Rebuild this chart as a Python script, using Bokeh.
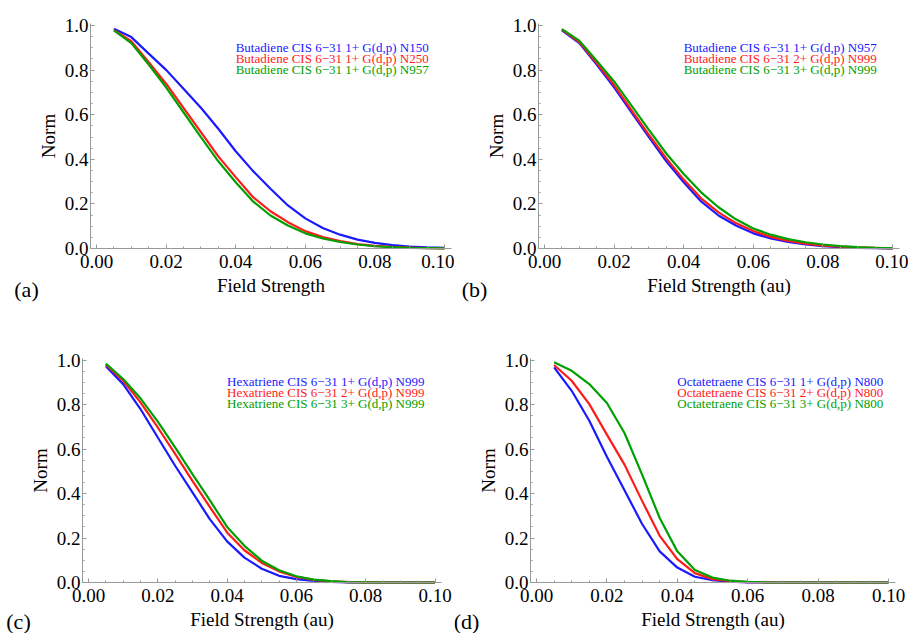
from bokeh.plotting import figure
from bokeh.models import Range1d, FixedTicker, PrintfTickFormatter, Label, LinearAxis
from bokeh.layouts import column, row
from bokeh.embed import file_html
from bokeh.resources import INLINE

# ---------------- data ----------------
field = [0.005, 0.010, 0.015, 0.020, 0.025, 0.030, 0.035, 0.040, 0.045, 0.050,
         0.055, 0.060, 0.065, 0.070, 0.075, 0.080, 0.085, 0.090, 0.095, 0.100]

# (a) Butadiene CIS 6-31 1+ G(d,p) N150 / N250 / N957
a_n150 = [0.985, 0.948, 0.874, 0.801, 0.716, 0.631, 0.537, 0.436, 0.347, 0.268,
          0.193, 0.135, 0.092, 0.062, 0.040, 0.025, 0.015, 0.009, 0.005, 0.003]
a_n250 = [0.980, 0.930, 0.835, 0.739, 0.631, 0.522, 0.413, 0.320, 0.230, 0.167,
          0.118, 0.078, 0.051, 0.033, 0.020, 0.012, 0.007, 0.004, 0.002, 0.001]
a_n957 = [0.978, 0.921, 0.825, 0.723, 0.611, 0.499, 0.391, 0.297, 0.211, 0.148,
          0.103, 0.068, 0.045, 0.029, 0.018, 0.010, 0.006, 0.003, 0.002, 0.001]

# (b) Butadiene CIS 6-31 1+/2+/3+ G(d,p)
b_1p = [0.978, 0.921, 0.825, 0.723, 0.611, 0.499, 0.391, 0.297, 0.211, 0.148,
        0.103, 0.068, 0.045, 0.029, 0.018, 0.010, 0.006, 0.003, 0.002, 0.001]
b_2p = [0.982, 0.926, 0.832, 0.733, 0.620, 0.510, 0.404, 0.309, 0.225, 0.162,
        0.114, 0.078, 0.052, 0.034, 0.022, 0.013, 0.008, 0.005, 0.003, 0.001]
b_3p = [0.984, 0.932, 0.842, 0.749, 0.641, 0.532, 0.426, 0.334, 0.252, 0.185,
        0.131, 0.090, 0.062, 0.042, 0.028, 0.018, 0.011, 0.006, 0.003, 0.002]

# (c) Hexatriene CIS 6-31 1+/2+/3+ G(d,p) N999
c_1p = [0.972, 0.892, 0.780, 0.652, 0.525, 0.405, 0.285, 0.185, 0.112, 0.062,
        0.030, 0.015, 0.007, 0.003, 0.001, 0.000, 0.000, 0.000, 0.000, 0.000]
c_2p = [0.979, 0.907, 0.810, 0.697, 0.578, 0.457, 0.340, 0.225, 0.145, 0.088,
        0.050, 0.025, 0.012, 0.005, 0.002, 0.001, 0.000, 0.000, 0.000, 0.000]
c_3p = [0.984, 0.915, 0.828, 0.723, 0.608, 0.487, 0.370, 0.250, 0.165, 0.098,
        0.055, 0.028, 0.013, 0.006, 0.002, 0.001, 0.000, 0.000, 0.000, 0.000]

# (d) Octatetraene CIS 6-31 1+/2+/3+ G(d,p) N800
d_1p = [0.967, 0.862, 0.727, 0.565, 0.415, 0.263, 0.140, 0.067, 0.026, 0.011,
        0.004, 0.001, 0.000, 0.000, 0.000, 0.000, 0.000, 0.000, 0.000, 0.000]
d_2p = [0.978, 0.907, 0.802, 0.665, 0.530, 0.367, 0.210, 0.105, 0.042, 0.015,
        0.006, 0.002, 0.001, 0.000, 0.000, 0.000, 0.000, 0.000, 0.000, 0.000]
d_3p = [0.990, 0.952, 0.892, 0.807, 0.672, 0.485, 0.290, 0.140, 0.056, 0.022,
        0.008, 0.003, 0.001, 0.000, 0.000, 0.000, 0.000, 0.000, 0.000, 0.000]

x_ticks = [0.0, 0.02, 0.04, 0.06, 0.08, 0.10]
x_minor = [0.005, 0.01, 0.015, 0.025, 0.03, 0.035, 0.045, 0.05, 0.055,
           0.065, 0.07, 0.075, 0.085, 0.09, 0.095]
y_ticks = [0.0, 0.2, 0.4, 0.6, 0.8, 1.0]
y_minor = [0.05, 0.1, 0.15, 0.25, 0.3, 0.35, 0.45, 0.5, 0.55,
           0.65, 0.7, 0.75, 0.85, 0.9, 0.95]

colors = ["#1a1aff", "#ff1a1a", "#00a000"]
SERIF = "Liberation Serif"

# layout (pixels within each panel canvas): where x=0, y=0 lie and px per unit
panels = [
    dict(tag="(a)", xlabel="Field Strength",
         series=[a_n150, a_n250, a_n957],
         names=["Butadiene CIS 6\u221231 1+ G(d,p) N150",
                "Butadiene CIS 6\u221231 1+ G(d,p) N250",
                "Butadiene CIS 6\u221231 1+ G(d,p) N957"],
         h=316, x0=96, sx=3480, y0=248, sy=223, tag_xy=(26, 289)),
    dict(tag="(b)", xlabel="Field Strength (au)",
         series=[b_1p, b_2p, b_3p],
         names=["Butadiene CIS 6\u221231 1+ G(d,p) N957",
                "Butadiene CIS 6\u221231 2+ G(d,p) N999",
                "Butadiene CIS 6\u221231 3+ G(d,p) N999"],
         h=316, x0=90, sx=3480, y0=248, sy=223, tag_xy=(20, 289)),
    dict(tag="(c)", xlabel="Field Strength (au)",
         series=[c_1p, c_2p, c_3p],
         names=["Hexatriene CIS 6\u221231 1+ G(d,p) N999",
                "Hexatriene CIS 6\u221231 2+ G(d,p) N999",
                "Hexatriene CIS 6\u221231 3+ G(d,p) N999"],
         h=317, x0=88, sx=3465, y0=266, sy=222.4, tag_xy=(18, 305)),
    dict(tag="(d)", xlabel="Field Strength (au)",
         series=[d_1p, d_2p, d_3p],
         names=["Octatetraene CIS 6\u221231 1+ G(d,p) N800",
                "Octatetraene CIS 6\u221231 2+ G(d,p) N800",
                "Octatetraene CIS 6\u221231 3+ G(d,p) N800"],
         h=317, x0=82, sx=3520, y0=266, sy=222.4, tag_xy=(12, 305)),
]

W = 454
legend_x = 0.04
legend_y = [0.903, 0.853, 0.803]
y_axis_at = -0.0017
x_axis_end = 0.102
y_axis_end = 1.008

figs = []
for pd_ in panels:
    h, x0, sx, y0, sy = pd_["h"], pd_["x0"], pd_["sx"], pd_["y0"], pd_["sy"]
    xr = Range1d(-x0 / sx, (W - x0) / sx)
    yr = Range1d((y0 - h) / sy, y0 / sy)
    p = figure(width=W, height=h, output_backend="svg", toolbar_location=None,
               x_range=xr, y_range=yr, x_axis_location=None, y_axis_location=None,
               min_border=0, min_border_left=0, min_border_right=0,
               min_border_top=0, min_border_bottom=0)
    p.outline_line_color = None
    p.grid.visible = False
    p.background_fill_color = "white"
    p.border_fill_color = "white"

    for ys, c in zip(pd_["series"], colors):
        p.line(field, ys, line_color=c, line_width=2.2)

    for name, c, ly in zip(pd_["names"], colors, legend_y):
        p.add_layout(Label(x=legend_x, y=ly, text=name, text_color=c,
                           text_font=SERIF, text_font_size="13px",
                           text_baseline="middle", text_align="left"))

    xaxis = LinearAxis(fixed_location=0.0, bounds=(y_axis_at, x_axis_end),
                       ticker=FixedTicker(ticks=x_ticks, minor_ticks=x_minor),
                       formatter=PrintfTickFormatter(format="%.2f"),
                       axis_label=pd_["xlabel"])
    yaxis = LinearAxis(fixed_location=y_axis_at, bounds=(0.0, y_axis_end),
                       ticker=FixedTicker(ticks=y_ticks, minor_ticks=y_minor),
                       formatter=PrintfTickFormatter(format="%.1f"),
                       axis_label="Norm")
    for ax in (xaxis, yaxis):
        ax.axis_line_color = "#999999"
        ax.major_tick_line_color = "#999999"
        ax.minor_tick_line_color = "#999999"
        ax.major_tick_in = 4
        ax.major_tick_out = 0
        ax.minor_tick_in = 2
        ax.minor_tick_out = 0
        ax.major_label_text_font = SERIF
        ax.major_label_text_font_size = "19px"
        ax.major_label_text_color = "black"
        ax.axis_label_text_font = SERIF
        ax.axis_label_text_font_size = "19px"
        ax.axis_label_text_font_style = "normal"
        ax.axis_label_text_color = "black"
    xaxis.major_label_standoff = 6
    xaxis.axis_label_standoff = 4
    yaxis.major_label_standoff = 2
    yaxis.axis_label_standoff = 3
    p.add_layout(xaxis, "below")
    p.add_layout(yaxis, "left")

    tx, ty = pd_["tag_xy"]
    p.add_layout(Label(x=tx, y=ty, x_units="canvas", y_units="canvas",
                       text=pd_["tag"], text_font=SERIF, text_font_size="22px",
                       text_color="black", text_align="center", text_baseline="middle"))
    figs.append(p)

layout = column(row(figs[0], figs[1]), row(figs[2], figs[3]))
open("out.html", "w").write(file_html(layout, INLINE))
